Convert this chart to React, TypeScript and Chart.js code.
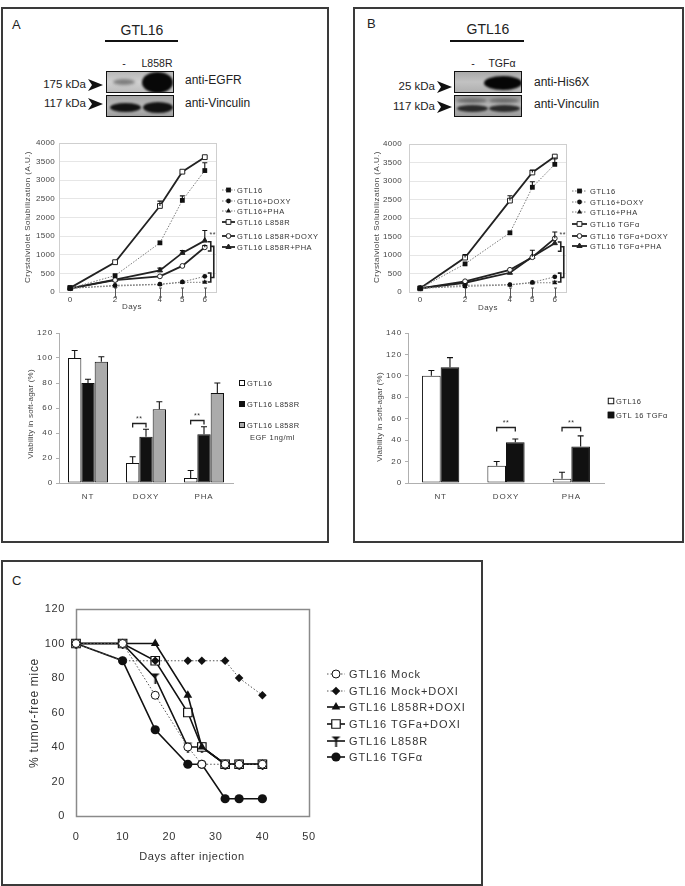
import React, { useEffect, useRef } from 'react';
import { Chart, registerables } from 'chart.js';
import { drawPoint } from 'chart.js/helpers';

Chart.register(...registerables);

const FONT = 'Arial, "Liberation Sans", Helvetica, sans-serif';
Chart.defaults.font.family = FONT;
Chart.defaults.color = '#444';

// ---------------- DATA ----------------
// Panel A / B growth curves (Crystalviolet, A.U.)
const days = [0, 2, 4, 5, 6];
const dayTicks = [0, 2, 4, 5, 6];

const lineLabelsA = ['GTL16', 'GTL16+DOXY', 'GTL16+PHA', 'GTL16 L858R', 'GTL16 L858R+DOXY', 'GTL16 L858R+PHA'];
const aGtl16 = [100, 440, 1320, 2460, 3260];
const aGtl16Err = [0, 0, 0, 120, 210];
const aGtl16Doxy = [100, 180, 210, 270, 420];
const aGtl16Pha = [100, 160, 200, 260, 260];
const aGtl16PhaErr = [0, 0, 0, 0, 30];
const aL858r = [110, 800, 2310, 3230, 3620];
const aL858rErr = [0, 0, 130, 0, 0];
const aL858rDoxy = [100, 320, 420, 700, 1200];
const aL858rDoxyErr = [0, 0, 0, 0, 50];
const aL858rPha = [100, 330, 580, 1050, 1380];
const aL858rPhaErr = [0, 0, 60, 60, 270];

const lineLabelsB = ['GTL16', 'GTL16+DOXY', 'GTL16+PHA', 'GTL16 TGFα', 'GTL16 TGFα+DOXY', 'GTL16 TGFα+PHA'];
const bGtl16 = [100, 760, 1600, 2830, 3450];
const bGtl16Err = [0, 0, 0, 150, 170];
const bGtl16Doxy = [100, 180, 200, 260, 410];
const bGtl16Pha = [100, 150, 190, 250, 250];
const bGtl16PhaErr = [0, 0, 0, 0, 40];
const bTgf = [100, 930, 2470, 3230, 3660];
const bTgfErr = [0, 80, 130, 60, 0];
const bTgfDoxy = [100, 290, 600, 940, 1450];
const bTgfDoxyErr = [0, 0, 0, 0, 170];
const bTgfPha = [100, 250, 520, 950, 1320];
const bTgfPhaErr = [0, 0, 0, 180, 0];

// significance brackets at day 6 (values)
const sigLineUpper = [1350, 1100];
const sigLineLower = [510, 270];
const sigLineStar = 1560;

// Panel A / B soft-agar viability (%)
const barCats = ['NT', 'DOXY', 'PHA'];
const barLabelsA = ['GTL16', 'GTL16 L858R', 'GTL16 L858R'];
const barA1 = [100, 16, 4];
const barA1Err = [6, 5, 6];
const barA2 = [80, 37, 39];
const barA2Err = [3, 6, 6];
const barA3 = [97, 59, 72];
const barA3Err = [4, 6, 8];
const sigBarA = [null, 48, 50];

const barLabelsB = ['GTL16', 'GTL 16 TGFα'];
const barB1 = [100, 16, 4];
const barB1Err = [5, 4, 6];
const barB2 = [108, 38, 34];
const barB2Err = [9, 3, 10];
const sigBarB = [null, 52, 52];

// Panel C tumor-free mice (%)
const daysC = [0, 10, 17, 24, 27, 32, 35, 40];
const cLabels = ['GTL16 Mock', 'GTL16 Mock+DOXI', 'GTL16 L858R+DOXI', 'GTL16 TGFa+DOXI', 'GTL16 L858R', 'GTL16 TGFα'];
const cMock = [100, 100, 70, 40, 30, 30, 30, 30];
const cMockDoxi = [100, 90, 90, 90, 90, 90, 80, 70];
const cL858rDoxi = [100, 100, 100, 70, 40, 30, 30, 30];
const cTgfDoxi = [100, 100, 90, 60, 40, 30, 30, 30];
const cL858r = [100, 100, 80, 40, 40, 30, 30, 30];
const cTgf = [100, 90, 50, 30, 30, 10, 10, 10];

// ---------------- HELPERS ----------------
type TextItem = { t: string; x: number; y: number; size: number; sp?: number; rot?: boolean; align?: CanvasTextAlign; color?: string };

function drawText(ctx: any, it: TextItem) {
  ctx.save();
  ctx.font = `${it.size}px ${FONT}`;
  ctx.fillStyle = it.color || '#333';
  ctx.textAlign = it.align || 'center';
  ctx.textBaseline = 'middle';
  ctx.letterSpacing = (it.sp || 0) + 'px';
  ctx.translate(it.x, it.y);
  if (it.rot) ctx.rotate(-Math.PI / 2);
  ctx.fillText(it.t, 0, 0);
  ctx.restore();
}

function pts(xs: number[], ys: number[]) {
  return xs.map((x, i) => ({ x, y: ys[i] }));
}

const plain = (v: any) => String(v);

function makeTMarker() {
  const c = document.createElement('canvas');
  c.width = 11;
  c.height = 11;
  const g = c.getContext('2d')!;
  g.fillStyle = '#111';
  g.beginPath();
  g.moveTo(1, 1);
  g.lineTo(10, 1);
  g.lineTo(5.5, 5);
  g.closePath();
  g.fill();
  g.fillRect(4.7, 1, 1.8, 10);
  return c;
}

function decor(cfg: any) {
  return {
    id: 'decor',
    beforeDraw(chart: any) {
      chart.ctx.letterSpacing = (cfg.tickSp || 0) + 'px';
    },
    beforeDatasetsDraw(chart: any) {
      const ctx = chart.ctx;
      const a = chart.chartArea;
      ctx.save();
      ctx.letterSpacing = '0px';
      if (cfg.frame) {
        ctx.strokeStyle = cfg.frame.color;
        ctx.lineWidth = cfg.frame.width;
        ctx.strokeRect(Math.round(a.left) + 0.5, Math.round(a.top) + 0.5, Math.round(a.right - a.left), Math.round(a.bottom - a.top));
      }
      if (cfg.xMarks) {
        const xs = chart.scales.x;
        ctx.strokeStyle = '#555';
        ctx.lineWidth = 1;
        cfg.xMarks.forEach((v: number) => {
          const X = Math.round(xs.getPixelForValue(v)) + 0.5;
          ctx.beginPath();
          ctx.moveTo(X, a.bottom - 4);
          ctx.lineTo(X, a.bottom + 5);
          ctx.moveTo(X - 1.5, a.bottom - 4);
          ctx.lineTo(X + 1.5, a.bottom - 4);
          ctx.moveTo(X - 1.5, a.bottom + 5);
          ctx.lineTo(X + 1.5, a.bottom + 5);
          ctx.stroke();
        });
      }
      ctx.restore();
    },
    afterDatasetsDraw(chart: any) {
      const ctx = chart.ctx;
      const ys = chart.scales.y;
      ctx.save();
      ctx.letterSpacing = '0px';
      ctx.strokeStyle = '#111';
      ctx.lineWidth = 1.1;
      chart.data.datasets.forEach((ds: any, i: number) => {
        if (!ds.errs) return;
        const meta = chart.getDatasetMeta(i);
        meta.data.forEach((el: any, j: number) => {
          const e = ds.errs[j];
          if (!e) return;
          const raw = ds.data[j];
          const v = typeof raw === 'number' ? raw : raw.y;
          const top = ys.getPixelForValue(v + e);
          const cap = cfg.cap || 2.5;
          ctx.beginPath();
          ctx.moveTo(el.x, el.y);
          ctx.lineTo(el.x, top);
          ctx.moveTo(el.x - cap, top);
          ctx.lineTo(el.x + cap, top);
          ctx.stroke();
        });
      });
      if (cfg.lineSig) {
        const s = cfg.lineSig;
        const X = chart.scales.x.getPixelForValue(s.x);
        const yv = (v: number) => ys.getPixelForValue(v);
        ctx.strokeStyle = '#222';
        ctx.lineWidth = 1.6;
        const br = (v1: number, v2: number) => {
          ctx.beginPath();
          ctx.moveTo(X + 3, yv(v1));
          ctx.lineTo(X + 6, yv(v1));
          ctx.lineTo(X + 6, yv(v2));
          ctx.lineTo(X + 3, yv(v2));
          ctx.stroke();
        };
        br(s.up[0], s.up[1]);
        br(s.lo[0], s.lo[1]);
        const m1 = yv((s.up[0] + s.up[1]) / 2);
        const m2 = yv((s.lo[0] + s.lo[1]) / 2);
        ctx.beginPath();
        ctx.moveTo(X + 6, m1);
        ctx.lineTo(X + 9, m1);
        ctx.lineTo(X + 9, m2);
        ctx.lineTo(X + 6, m2);
        ctx.stroke();
        drawText(ctx, { t: '**', x: X + 8, y: yv(s.star) + 1, size: 7, sp: 0.5, color: '#333' });
      }
      if (cfg.barSig) {
        const m0 = chart.getDatasetMeta(0);
        const m1 = chart.getDatasetMeta(1);
        ctx.strokeStyle = '#222';
        ctx.lineWidth = 1.3;
        cfg.barSig.forEach((v: number | null, j: number) => {
          if (v == null) return;
          const x1 = m0.data[j].x;
          const x2 = m1.data[j].x;
          const Y = Math.round(ys.getPixelForValue(v)) + 0.5;
          ctx.beginPath();
          ctx.moveTo(x1, Y + 4);
          ctx.lineTo(x1, Y);
          ctx.lineTo(x2, Y);
          ctx.lineTo(x2, Y + 4);
          ctx.stroke();
          drawText(ctx, { t: '**', x: (x1 + x2) / 2, y: Y - 4, size: 7, sp: 0.5, color: '#333' });
        });
      }
      ctx.restore();
    },
    afterDraw(chart: any) {
      const ctx = chart.ctx;
      ctx.save();
      if (cfg.lineLegend) {
        const L = cfg.lineLegend;
        chart.data.datasets.forEach((ds: any, i: number) => {
          const y = L.ys[i];
          ctx.save();
          ctx.strokeStyle = ds.borderColor;
          ctx.lineWidth = ds.borderWidth;
          ctx.setLineDash(ds.borderDash || []);
          ctx.beginPath();
          ctx.moveTo(L.x1, y);
          ctx.lineTo(L.x2, y);
          ctx.stroke();
          ctx.setLineDash([]);
          ctx.fillStyle = ds.pointBackgroundColor;
          ctx.strokeStyle = ds.pointBorderColor;
          ctx.lineWidth = ds.pointBorderWidth;
          drawPoint(ctx, { pointStyle: ds.pointStyle, radius: ds.pointRadius * (L.ms || 1), rotation: 0, borderWidth: ds.pointBorderWidth } as any, (L.x1 + L.x2) / 2, y);
          ctx.restore();
          drawText(ctx, { t: ds.label, x: L.tx, y: y + 0.5, size: L.size, sp: L.sp, align: 'left', color: '#333' });
        });
      }
      if (cfg.barLegend) {
        const L = cfg.barLegend;
        chart.data.datasets.forEach((ds: any, i: number) => {
          const y = L.ys[i];
          ctx.save();
          ctx.fillStyle = ds.backgroundColor;
          ctx.strokeStyle = '#111';
          ctx.lineWidth = 1;
          ctx.fillRect(L.sx - L.s / 2, y - L.s / 2, L.s, L.s);
          ctx.strokeRect(L.sx - L.s / 2 + 0.5, y - L.s / 2 + 0.5, L.s - 1, L.s - 1);
          ctx.restore();
          drawText(ctx, { t: ds.label, x: L.tx, y: y + 0.5, size: L.size, sp: L.sp, align: 'left', color: '#333' });
        });
      }
      (cfg.texts || []).forEach((it: TextItem) => drawText(ctx, it));
      ctx.restore();
    },
  };
}

function pad(cw: number, ch: number, area: number[], yw: number, xh: number) {
  const [l, t, r, b] = area;
  return { left: l - yw, top: t, right: cw - r, bottom: ch - b - xh };
}

const dotted = {
  borderColor: '#7a7a7a',
  borderWidth: 1,
  borderDash: [1.5, 1.5],
  pointBackgroundColor: '#111',
  pointBorderColor: '#111',
  pointBorderWidth: 0,
};
const solid = {
  borderColor: '#222',
  borderWidth: 1.8,
  borderDash: [],
  pointBackgroundColor: '#fff',
  pointBorderColor: '#222',
  pointBorderWidth: 1,
};

function growthDatasets(labels: string[], series: number[][], errs: (number[] | null)[]) {
  const styles = [
    { ...dotted, pointStyle: 'rect', pointRadius: 3.4 },
    { ...dotted, pointStyle: 'circle', pointRadius: 2.4 },
    { ...dotted, pointStyle: 'triangle', pointRadius: 3 },
    { ...solid, pointStyle: 'rect', pointRadius: 3.4 },
    { ...solid, pointStyle: 'circle', pointRadius: 2.4 },
    { ...solid, pointStyle: 'triangle', pointRadius: 3, pointBackgroundColor: '#222' },
  ];
  return series.map((s, i) => ({
    label: labels[i],
    data: pts(days, s),
    errs: errs[i],
    tension: 0,
    clip: false,
    pointHoverRadius: 3,
    ...styles[i],
  }));
}

function growthConfig(labels: string[], series: number[][], errs: (number[] | null)[], cw: number, ch: number, area: number[], yPad: number, deco: any) {
  return {
    type: 'line',
    data: { datasets: growthDatasets(labels, series, errs) },
    options: {
      animation: false,
      responsive: false,
      events: [],
      layout: { padding: pad(cw, ch, area, 36, 20) },
      plugins: { legend: { display: false }, tooltip: { enabled: false } },
      scales: {
        x: {
          type: 'linear',
          min: -0.5,
          max: 6.5,
          afterBuildTicks: (s: any) => {
            s.ticks = dayTicks.map((v) => ({ value: v }));
          },
          afterFit: (s: any) => {
            s.height = 20;
          },
          grid: { display: false, drawTicks: false },
          border: { display: false },
          ticks: { font: { size: 8 }, padding: 3, color: '#444', callback: plain },
        },
        y: {
          min: 0,
          max: 4000,
          afterFit: (s: any) => {
            s.width = 36;
          },
          ticks: { stepSize: 500, font: { size: 8 }, padding: yPad, color: '#444', callback: plain },
          grid: { color: '#e6e6e6', drawTicks: false, lineWidth: 1 },
          border: { display: false },
        },
      },
    },
    plugins: [decor(deco)],
  };
}

function barConfig(labels: string[], series: number[][], errs: number[][], colors: string[], catPct: number, yMax: number, cw: number, ch: number, area: number[], deco: any) {
  return {
    type: 'bar',
    data: {
      labels: barCats,
      datasets: series.map((s, i) => ({
        label: labels[i],
        data: s,
        errs: errs[i],
        backgroundColor: colors[i],
        borderColor: '#111',
        borderWidth: 1,
        borderSkipped: false,
        barPercentage: 1,
        categoryPercentage: catPct,
      })),
    },
    options: {
      animation: false,
      responsive: false,
      events: [],
      layout: { padding: pad(cw, ch, area, 36, 24) },
      plugins: { legend: { display: false }, tooltip: { enabled: false } },
      scales: {
        x: {
          afterFit: (s: any) => {
            s.height = 24;
          },
          grid: { display: false, drawTicks: false },
          border: { display: true, color: '#b0b0b0', width: 1 },
          ticks: { font: { size: 8 }, padding: 9, color: '#444' },
        },
        y: {
          min: 0,
          max: yMax,
          afterFit: (s: any) => {
            s.width = 36;
          },
          ticks: { stepSize: 20, font: { size: 8 }, padding: 3, color: '#444' },
          grid: { drawOnChartArea: false, drawTicks: true, tickLength: 3, color: '#b0b0b0' },
          border: { display: true, color: '#b0b0b0', width: 1 },
        },
      },
    },
    plugins: [decor(deco)],
  };
}

function tumorConfig(cw: number, ch: number, area: number[]) {
  const T = makeTMarker();
  const dotC = { borderColor: '#555', borderWidth: 1, borderDash: [1.5, 2] };
  const solC = { borderColor: '#111', borderWidth: 1.6, borderDash: [] };
  const styles = [
    { ...dotC, pointStyle: 'circle', pointRadius: 4, pointBackgroundColor: '#fff', pointBorderColor: '#111', pointBorderWidth: 1 },
    { ...dotC, pointStyle: 'rectRot', pointRadius: 4.3, pointBackgroundColor: '#111', pointBorderColor: '#111', pointBorderWidth: 0 },
    { ...solC, pointStyle: 'triangle', pointRadius: 5, pointBackgroundColor: '#111', pointBorderColor: '#111', pointBorderWidth: 0 },
    { ...solC, pointStyle: 'rect', pointRadius: 6, pointBackgroundColor: '#fff', pointBorderColor: '#111', pointBorderWidth: 1.2 },
    { ...solC, pointStyle: T, pointRadius: 5, pointBackgroundColor: '#111', pointBorderColor: '#111', pointBorderWidth: 0 },
    { ...solC, pointStyle: 'circle', pointRadius: 4.6, pointBackgroundColor: '#111', pointBorderColor: '#111', pointBorderWidth: 0 },
  ];
  const series = [cMock, cMockDoxi, cL858rDoxi, cTgfDoxi, cL858r, cTgf];
  return {
    type: 'line',
    data: {
      datasets: series.map((s, i) => ({
        label: cLabels[i],
        data: pts(daysC, s),
        tension: 0,
        clip: false,
        ...styles[i],
      })),
    },
    options: {
      animation: false,
      responsive: false,
      events: [],
      layout: { padding: pad(cw, ch, area, 40, 40) },
      plugins: { legend: { display: false }, tooltip: { enabled: false } },
      scales: {
        x: {
          type: 'linear',
          min: 0,
          max: 50,
          afterFit: (s: any) => {
            s.height = 40;
          },
          grid: { display: false, drawTicks: false },
          border: { display: false },
          ticks: { stepSize: 10, font: { size: 11 }, padding: 14, color: '#333' },
        },
        y: {
          min: 0,
          max: 120,
          afterFit: (s: any) => {
            s.width = 40;
          },
          grid: { display: false, drawTicks: false },
          border: { display: false },
          ticks: { stepSize: 20, font: { size: 11 }, padding: 11, color: '#333' },
        },
      },
    },
    plugins: [
      decor({
        tickSp: 0.6,
        frame: { color: '#8a8a8a', width: 1.5 },
        lineLegend: { x1: 324, x2: 342, tx: 346, ys: [112, 129, 145, 162, 179, 195], size: 11, sp: 0.9 },
        texts: [
          { t: '% tumor-free mice', x: 32, y: 151, size: 12, sp: 0.7, rot: true, color: '#333' },
          { t: 'Days after injection', x: 189, y: 295, size: 11, sp: 0.6, color: '#333' },
        ],
      }),
    ],
  };
}

// ---------------- COMPONENTS ----------------
function ChartCanvas({ left, top, w, h, make }: { left: number; top: number; w: number; h: number; make: () => any }) {
  const ref = useRef<HTMLCanvasElement>(null);
  useEffect(() => {
    const chart = new Chart(ref.current as any, make());
    return () => chart.destroy();
  }, []);
  return <canvas ref={ref} width={w} height={h} style={{ position: 'absolute', left, top, width: w, height: h }} />;
}

function Label({ x, y, size, align = 'left', children, color = '#222' }: any) {
  const style: any = {
    position: 'absolute',
    top: y - size * 0.6,
    fontSize: size,
    lineHeight: `${size * 1.2}px`,
    whiteSpace: 'nowrap',
    color,
    fontFamily: FONT,
  };
  if (align === 'left') style.left = x;
  if (align === 'center') {
    style.left = x;
    style.transform = 'translateX(-50%)';
  }
  if (align === 'right') style.right = 685 - x;
  return <div style={style}>{children}</div>;
}

function Box({ l, t, r, b }: any) {
  return (
    <div
      style={{
        position: 'absolute',
        left: l,
        top: t,
        width: r - l,
        height: b - t,
        border: '2px solid #3a3a3a',
        boxSizing: 'border-box',
      }}
    />
  );
}

function Arrow({ x, y }: any) {
  return (
    <svg style={{ position: 'absolute', left: x, top: y - 6 }} width={15} height={12}>
      <polygon points="0,0 15,6 0,12 4,6" fill="#111" />
    </svg>
  );
}

function Blot({ x, y, w, h, bg, bands }: any) {
  return (
    <div
      style={{
        position: 'absolute',
        left: x,
        top: y,
        width: w,
        height: h,
        background: bg,
        border: '1.5px solid #111',
        boxSizing: 'border-box',
        overflow: 'hidden',
      }}
    >
      {bands.map((b: any, i: number) => (
        <div
          key={i}
          style={{
            position: 'absolute',
            left: b.x,
            top: b.y,
            width: b.w,
            height: b.h,
            background: b.c,
            borderRadius: '50%',
            filter: `blur(${b.blur}px)`,
          }}
        />
      ))}
    </div>
  );
}

export default function App() {
  return (
    <div style={{ position: 'absolute', left: 0, top: 0, width: 685, height: 886, background: '#fff', fontFamily: FONT, overflow: 'hidden' }}>
      <Box l={1} t={7} r={329} b={543} />
      <Box l={353} t={7} r={684} b={543} />
      <Box l={1} t={560} r={483} b={886} />

      {/* Panel A header */}
      <Label x={12} y={25} size={13}>A</Label>
      <Label x={142} y={30} size={14} align="center">GTL16</Label>
      <div style={{ position: 'absolute', left: 105, top: 40, width: 73, height: 1.5, background: '#111' }} />
      <Label x={124} y={63} size={10.5} align="center">-</Label>
      <Label x={157} y={63} size={10.5} align="center">L858R</Label>
      <Blot
        x={106}
        y={71}
        w={68}
        h={22}
        bg="linear-gradient(180deg,#b9b9b9,#d0d0d0 50%,#bdbdbd)"
        bands={[
          { x: 6, y: 7, w: 22, h: 6, c: '#7e7e7e', blur: 1.5 },
          { x: 35, y: 0, w: 31, h: 21, c: '#080808', blur: 1.2 },
        ]}
      />
      <Blot
        x={106}
        y={95}
        w={68}
        h={22}
        bg="linear-gradient(180deg,#a6a6a6,#b8b8b8 50%,#a0a0a0)"
        bands={[
          { x: 3, y: 7, w: 31, h: 9, c: '#111', blur: 1.2 },
          { x: 36, y: 6, w: 30, h: 11, c: '#111', blur: 1.2 },
        ]}
      />
      <Label x={86} y={85} size={11.5} align="right">175 kDa</Label>
      <Label x={86} y={104} size={11.5} align="right">117 kDa</Label>
      <Arrow x={88} y={85} />
      <Arrow x={88} y={104} />
      <Label x={185} y={80} size={12}>anti-EGFR</Label>
      <Label x={185} y={103} size={12}>anti-Vinculin</Label>

      {/* Panel B header */}
      <Label x={367} y={24} size={13}>B</Label>
      <Label x={488} y={29} size={14} align="center">GTL16</Label>
      <div style={{ position: 'absolute', left: 450, top: 40, width: 74, height: 1.5, background: '#111' }} />
      <Label x={473} y={63} size={10.5} align="center">-</Label>
      <Label x={502} y={63} size={10.5} align="center">TGFα</Label>
      <Blot
        x={454}
        y={71}
        w={68}
        h={22}
        bg="linear-gradient(180deg,#a9a9a9,#c2c2c2 50%,#b0b0b0)"
        bands={[{ x: 29, y: 4, w: 38, h: 14, c: '#060606', blur: 1.2 }]}
      />
      <Blot
        x={454}
        y={95}
        w={68}
        h={22}
        bg="linear-gradient(180deg,#9a9a9a,#b4b4b4 40%,#9e9e9e)"
        bands={[
          { x: 2, y: 2, w: 30, h: 5, c: '#6a6a6a', blur: 1.5 },
          { x: 34, y: 2, w: 30, h: 5, c: '#6a6a6a', blur: 1.5 },
          { x: 2, y: 9, w: 31, h: 7, c: '#2a2a2a', blur: 1.3 },
          { x: 34, y: 9, w: 31, h: 7, c: '#2a2a2a', blur: 1.3 },
        ]}
      />
      <Label x={435} y={87} size={11.5} align="right">25 kDa</Label>
      <Label x={435} y={107} size={11.5} align="right">117 kDa</Label>
      <Arrow x={437} y={87} />
      <Arrow x={437} y={107} />
      <Label x={534} y={82} size={12}>anti-His6X</Label>
      <Label x={534} y={104} size={12}>anti-Vinculin</Label>

      {/* Panel A line chart */}
      <ChartCanvas
        left={3}
        top={132}
        w={325}
        h={185}
        make={() =>
          growthConfig(
            lineLabelsA,
            [aGtl16, aGtl16Doxy, aGtl16Pha, aL858r, aL858rDoxy, aL858rPha],
            [aGtl16Err, null, aGtl16PhaErr, aL858rErr, aL858rDoxyErr, aL858rPhaErr],
            325,
            185,
            [56, 11, 213, 160],
            4,
            {
              tickSp: 0.3,
              frame: { color: '#cfcfcf', width: 1 },
              xMarks: [2, 4, 5, 6],
              lineSig: { x: 6, up: sigLineUpper, lo: sigLineLower, star: sigLineStar },
              lineLegend: { x1: 219, x2: 232, tx: 234, ys: [58, 69, 79, 90, 104, 115], size: 7.5, sp: 0.55 },
              texts: [
                { t: 'Crystalviolet Solubilization (A.U.)', x: 25, y: 85, size: 8, sp: 0.45, rot: true, color: '#444' },
                { t: 'Days', x: 129, y: 175, size: 8, sp: 0.5, color: '#444' },
              ],
            }
          )
        }
      />

      {/* Panel B line chart */}
      <ChartCanvas
        left={355}
        top={132}
        w={326}
        h={185}
        make={() =>
          growthConfig(
            lineLabelsB,
            [bGtl16, bGtl16Doxy, bGtl16Pha, bTgf, bTgfDoxy, bTgfPha],
            [bGtl16Err, null, bGtl16PhaErr, bTgfErr, bTgfDoxyErr, bTgfPhaErr],
            326,
            185,
            [54, 12, 211, 160],
            7,
            {
              tickSp: 0.3,
              frame: { color: '#cfcfcf', width: 1 },
              xMarks: [2, 4, 5, 6],
              lineSig: { x: 6, up: sigLineUpper, lo: sigLineLower, star: sigLineStar },
              lineLegend: { x1: 217, x2: 232, tx: 235, ys: [59, 70, 80, 92, 104, 114], size: 7.5, sp: 0.55 },
              texts: [
                { t: 'Crystalviolet Solubilization (A.U.)', x: 22, y: 85, size: 8, sp: 0.45, rot: true, color: '#444' },
                { t: 'Days', x: 133, y: 176, size: 8, sp: 0.5, color: '#444' },
              ],
            }
          )
        }
      />

      {/* Panel A bar chart */}
      <ChartCanvas
        left={3}
        top={318}
        w={325}
        h={200}
        make={() =>
          barConfig(barLabelsA, [barA1, barA2, barA3], [barA1Err, barA2Err, barA3Err], ['#ffffff', '#111111', '#ababab'], 0.69, 120, 325, 200, [56, 15, 230, 165], {
            tickSp: 0.9,
            cap: 3,
            barSig: sigBarA,
            barLegend: { sx: 239, s: 6, tx: 244, ys: [65, 86, 107], size: 7.5, sp: 0.5 },
            texts: [
              { t: 'EGF 1ng/ml', x: 247, y: 119.5, size: 7.5, sp: 0.5, align: 'left', color: '#333' },
              { t: 'Viability in soft-agar (%)', x: 28, y: 96, size: 8, sp: 0.2, rot: true, color: '#444' },
            ],
          })
        }
      />

      {/* Panel B bar chart */}
      <ChartCanvas
        left={355}
        top={318}
        w={326}
        h={200}
        make={() =>
          barConfig(barLabelsB, [barB1, barB2], [barB1Err, barB2Err], ['#ffffff', '#111111'], 0.57, 140, 326, 200, [53, 15, 249, 165], {
            tickSp: 0.9,
            cap: 3,
            barSig: sigBarB,
            barLegend: { sx: 256, s: 6.5, tx: 261, ys: [83, 97], size: 7.5, sp: 0.5 },
            texts: [{ t: 'Viability in soft-agar (%)', x: 25, y: 99, size: 8, sp: 0.2, rot: true, color: '#444' }],
          })
        }
      />

      {/* Panel C */}
      <Label x={12} y={581} size={13}>C</Label>
      <ChartCanvas left={3} top={562} w={478} h={321} make={() => tumorConfig(478, 321, [73, 47, 306, 254])} />
    </div>
  );
}
